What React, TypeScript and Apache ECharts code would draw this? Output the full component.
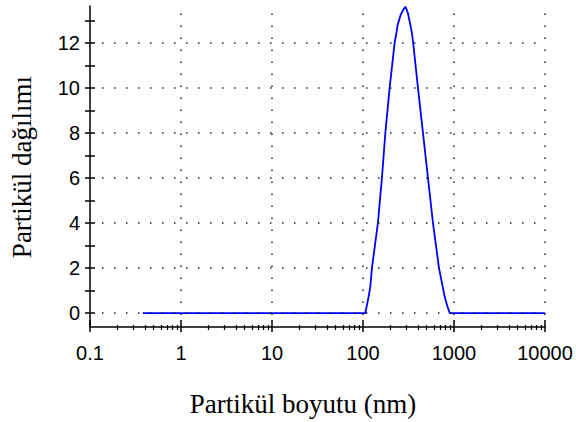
import React, { useEffect, useRef } from "react";
import * as echarts from "echarts";

const sizesNm = [0.38, 1, 10, 50, 100, 106, 115.2, 120.3, 125.3, 145.8, 161.4, 176, 196.2, 222.6, 234.2, 240.2, 259.2, 276.1, 294.1, 311.8, 331.3, 345.1, 355.8, 401.8, 456, 517.6, 587.5, 683.9, 790.3, 846.2, 897, 1000, 5000, 10000];
const distribution = [0, 0, 0, 0, 0, 0, 0.72, 1.17, 2, 4, 6, 8, 10, 12, 12.5, 12.8, 13.24, 13.47, 13.61, 13.32, 12.8, 12.43, 12, 10, 8, 6, 4, 2, 0.72, 0.3, 0, 0, 0, 0];
const xMajorTicks = [0.1, 1, 10, 100, 1000, 10000];
const xTickLabels = ["0.1", "1", "10", "100", "1000", "10000"];
const xGridValues = [1, 10, 100, 1000, 10000];
const xMinorTicks = [
  0.2, 0.3, 0.4, 0.5, 0.6, 0.7, 0.8, 0.9,
  2, 3, 4, 5, 6, 7, 8, 9,
  20, 30, 40, 50, 60, 70, 80, 90,
  200, 300, 400, 500, 600, 700, 800, 900,
  2000, 3000, 4000, 5000, 6000, 7000, 8000, 9000,
];
const yLabelValues = [0, 2, 4, 6, 8, 10, 12];
const yTickValues = [0, 1, 2, 3, 4, 5, 6, 7, 8, 9, 10, 11, 12, 13];
const yGridValues = [0, 2, 4, 6, 8, 10, 12];
const xTitle = "Partikül boyutu (nm)";
const yTitle = "Partikül dağılımı";

const X_MIN = 0.1;
const X_MAX = 10000;
const Y_MIN = -0.62;
const Y_MAX = 13.64;

export default function App() {
  const ref = useRef<HTMLDivElement>(null);
  useEffect(() => {
    if (!ref.current) return;
    const chart = echarts.init(ref.current, null, { renderer: "svg" });
    const gridRect = { left: 90, right: 31, top: 6, bottom: 95 };
    const black = "#000";
    const tickFont = { fontFamily: "Liberation Sans, Arial, sans-serif", fontSize: 20, color: "#000" };
    const labelFmt = (v: number) => {
      const i = xMajorTicks.findIndex((t) => Math.abs(Math.log10(t) - Math.log10(v)) < 1e-6);
      return i >= 0 ? xTickLabels[i] : String(v);
    };
    const baseX = (gridIndex: number) => ({
      type: "log" as const,
      logBase: 10,
      min: X_MIN,
      max: X_MAX,
      gridIndex,
      position: "bottom" as const,
      splitLine: { show: false },
      minorTick: { show: false },
      minorSplitLine: { show: false },
    });
    const baseY = (gridIndex: number) => ({
      type: "value" as const,
      min: Y_MIN,
      max: Y_MAX,
      gridIndex,
      position: "left" as const,
      splitLine: { show: false },
    });
    const dotted = { color: "#222", width: 1.5, type: [1.5, 10.5] as number[] };

    chart.setOption({
      animation: false,
      backgroundColor: "#fff",
      grid: [0, 1, 2, 3].map(() => ({ ...gridRect, containLabel: false })),
      xAxis: [
        {
          ...baseX(0),
          axisLine: { show: true, onZero: false, lineStyle: { color: black, width: 1.5 } },
          axisTick: { show: true, inside: false, length: 5, lineStyle: { color: black, width: 1.5 }, customValues: xMajorTicks },
          axisLabel: { show: true, margin: 16, customValues: xMajorTicks, formatter: labelFmt, showMinLabel: true, showMaxLabel: true, ...tickFont },
        },
        {
          ...baseX(1),
          axisLine: { show: false, onZero: false },
          axisTick: { show: true, inside: true, length: 7, lineStyle: { color: black, width: 1.5 }, customValues: xMajorTicks },
          axisLabel: { show: false },
        },
        {
          ...baseX(2),
          axisLine: { show: false, onZero: false },
          axisTick: { show: true, inside: false, length: 3, lineStyle: { color: black, width: 1.2 }, customValues: xMinorTicks },
          axisLabel: { show: false },
        },
        {
          ...baseX(3),
          axisLine: { show: false, onZero: false },
          axisTick: { show: true, inside: true, length: 2, lineStyle: { color: black, width: 1.2 }, customValues: xMinorTicks },
          axisLabel: { show: false },
        },
      ],
      yAxis: [
        {
          ...baseY(0),
          axisLine: { show: true, onZero: false, lineStyle: { color: black, width: 1.5 } },
          axisTick: { show: true, inside: false, length: 5, lineStyle: { color: black, width: 1.5 }, customValues: yTickValues },
          axisLabel: { show: true, margin: 10, customValues: yLabelValues, ...tickFont },
        },
        {
          ...baseY(1),
          axisLine: { show: false, onZero: false },
          axisTick: { show: true, inside: true, length: 5, lineStyle: { color: black, width: 1.5 }, customValues: yTickValues },
          axisLabel: { show: false },
        },
        { ...baseY(2), show: false, axisLine: { onZero: false } },
        { ...baseY(3), show: false, axisLine: { onZero: false } },
      ],
      series: [
        {
          type: "line",
          xAxisIndex: 0,
          yAxisIndex: 0,
          z: 1,
          data: sizesNm.map((s, i) => [s, distribution[i]]),
          showSymbol: false,
          lineStyle: { width: 0, opacity: 0 },
          silent: true,
          markLine: {
            silent: true,
            symbol: ["none", "none"],
            label: { show: false },
            lineStyle: dotted,
            emphasis: { disabled: true },
            data: [
              ...yGridValues.map((v) => ({ yAxis: v })),
              ...xGridValues.map((v) => ({ xAxis: v })),
            ],
          },
        },
        {
          type: "line",
          xAxisIndex: 0,
          yAxisIndex: 0,
          z: 3,
          data: sizesNm.map((s, i) => [s, distribution[i]]),
          showSymbol: false,
          smooth: false,
          lineStyle: { color: "#0000ff", width: 1.8 },
          silent: true,
        },
      ],
      graphic: [
        {
          type: "text",
          x: 303,
          y: 404,
          style: {
            text: xTitle,
            align: "center",
            verticalAlign: "middle",
            fontFamily: "Liberation Serif, Times New Roman, serif",
            fontSize: 27,
            fill: "#000",
          },
        },
        {
          type: "text",
          x: 22,
          y: 167,
          rotation: Math.PI / 2,
          style: {
            text: yTitle,
            align: "center",
            verticalAlign: "middle",
            fontFamily: "Liberation Serif, Times New Roman, serif",
            fontSize: 27,
            fill: "#000",
          },
        },
      ],
    });
    return () => chart.dispose();
  }, []);
  return <div ref={ref} style={{ width: 576, height: 422, position: "absolute", left: 0, top: 0 }} />;
}
